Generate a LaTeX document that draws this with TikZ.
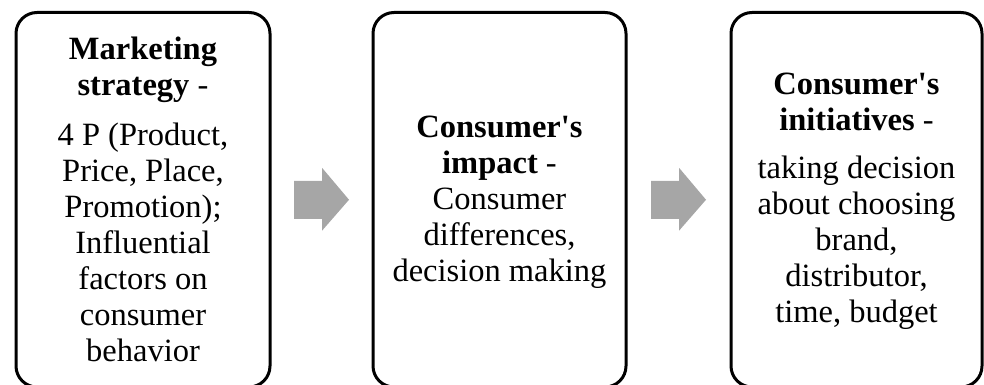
\documentclass[tikz,border=0pt]{standalone}
\usepackage{fontspec}
\setmainfont{Liberation Serif}
\definecolor{arrowgray}{HTML}{A6A6A6}
\tikzset{
  stagebox/.style={draw=black, line width=3pt, rounded corners=21pt, rectangle, minimum height=374.5pt, inner sep=0pt},
  stagetext/.style={align=center, inner sep=0pt, font=\fontsize{32.5pt}{36pt}\selectfont},
  blockarrow/.style={fill=arrowgray, draw=none}
}
\begin{document}
\begin{tikzpicture}[x=1pt, y=-1pt]
\useasboundingbox (0,0) rectangle (984,385);
\node[stagebox, minimum width=254pt] (b1) at (143,199.75) {};
\node[stagebox, minimum width=253pt] (b2) at (499.5,199.75) {};
\node[stagebox, minimum width=251pt] (b3) at (856.5,199.75) {};
\node[stagetext] (t1) at (143,199.5) {\textbf{Marketing}\\\textbf{strategy} -\\[14pt]4 P (Product,\\Price, Place,\\Promotion);\\Influential\\factors on\\consumer\\behavior};
\node[stagetext] (t2) at (499.5,202.5) {\textbf{Consumer\textquotesingle s}\\\textbf{impact} -\\Consumer\\differences,\\decision making};
\node[stagetext] (t3) at (856.5,201.5) {\textbf{Consumer\textquotesingle s}\\\textbf{initiatives} -\\[12pt]taking decision\\about choosing\\brand,\\distributor,\\time, budget};
\path (b1.east) -- (b2.west) coordinate[midway] (m1);
\path (b2.east) -- (b3.west) coordinate[midway] (m2);
\foreach \m in {m1,m2}{
  \fill[blockarrow, shift={(\m)}] (-27.5,-19) -- (0.5,-19) -- (0.5,-32) -- (27.5,0) -- (0.5,31) -- (0.5,19) -- (-27.5,19) -- cycle;
}
\end{tikzpicture}
\end{document}
